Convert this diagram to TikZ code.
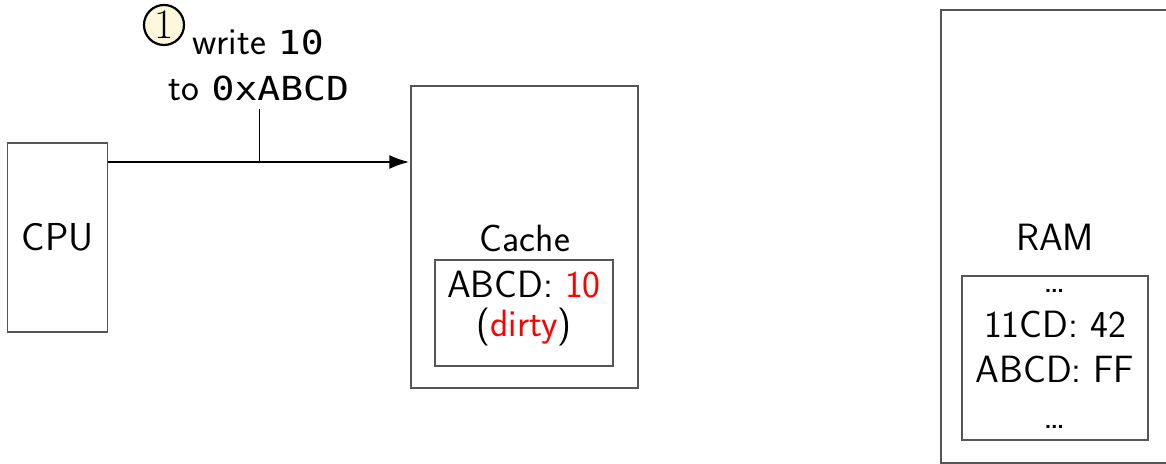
\documentclass[tikz,border=0pt]{standalone}
\usepackage{fontspec}
\newfontfamily\dmono{DejaVu Sans Mono}[Scale=0.87, FakeStretch=1.15]
\usetikzlibrary{arrows.meta}
\definecolor{cream}{HTML}{FDF8DC}
\definecolor{boxgray}{HTML}{555555}
\tikzset{
  box/.style={draw=boxgray, line width=0.6pt, rectangle, inner sep=0pt},
  txt/.style={inner sep=0pt, anchor=base, font=\sffamily\fontsize{19}{23}\selectfont},
  stepcircle/.style={circle, draw=black, line width=1.1pt, fill=cream, minimum size=20pt, inner sep=0pt, font=\rmfamily\fontsize{21}{25}\selectfont},
  bus/.style={line width=1.2pt, -{Latex[length=10pt,width=7pt]}, shorten >=0.5pt}
}
\begin{document}
\begin{tikzpicture}[x=0.5pt,y=-0.5pt]
\useasboundingbox (0,0) rectangle (1166,464);
% CPU
\node[box, minimum width=50pt, minimum height=94.5pt, font=\sffamily\fontsize{19.5}{23}\selectfont] (cpu) at (57.75,237.5) {CPU};
% Cache
\node[box, minimum width=113.5pt, minimum height=151pt] (cache) at (524.5,237) {};
\node[txt] (cachelbl) at (525,252) {Cache};
\node[box, minimum width=89pt, minimum height=53pt] (cacheinner) at (524,313) {};
\node[txt] (c1) at (524,298) {ABCD: \textcolor{red}{10}};
\node[txt] (c2) at (524,336) {(\textcolor{red}{dirty})};
% RAM
\node[box, minimum width=114pt, minimum height=226.5pt] (ram) at (1055,236.5) {};
\node[txt] (ramlbl) at (1055,251) {RAM};
\node[box, minimum width=93pt, minimum height=82pt] (raminner) at (1055,358) {};
\node[txt] (r0) at (1055,293) {\textellipsis};
\node[txt] (r1) at (1055,338) {11CD: 42};
\node[txt] (r2) at (1055,382) {ABCD: FF};
\node[txt] (r3) at (1055,428) {\textellipsis};
% arrow
\coordinate (a1) at (cpu.east |- 0,162);
\coordinate (a2) at (cache.west |- 0,162);
\draw[bus] (a1) -- coordinate[pos=0.5] (amid) (a2);
% label
\node[txt] (lbl1) at (258,55) {write {\dmono 10}};
\node[txt, inner sep=3.5pt] (lbl2) at (259,101) {to {\dmono 0xABCD}};
\draw[line width=0.6pt] (amid) -- (amid |- lbl2.south);
\node[stepcircle] (n1) at (164,25) {1};
\end{tikzpicture}
\end{document}
